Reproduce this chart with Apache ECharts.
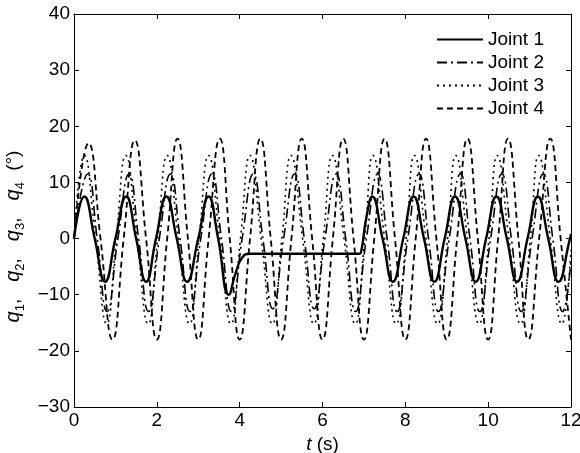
<!DOCTYPE html>
<html>
<head>
<meta charset="utf-8">
<script src="https://cdn.jsdelivr.net/npm/echarts@6/dist/echarts.min.js"></script>
<style>html,body{margin:0;padding:0;background:#fff;}#c{width:580px;height:453px;}</style>
</head>
<body>
<div id="c"></div>
<script>
// ---- Data (t in s, q in degrees) ----
var seriesNames = ['Joint 1', 'Joint 2', 'Joint 3', 'Joint 4'];
var xTicks = [0, 2, 4, 6, 8, 10, 12];
var yTicks = [-30, -20, -10, 0, 10, 20, 30, 40];

var joint1 = [
  [0,0],[0.25,7.5],[0.5,0],[0.75,-7.7],[1.0,0],[1.26,7.5],[1.5,0],[1.74,-7.7],[1.98,0],
  [2.23,7.5],[2.48,0],[2.73,-7.7],[3.0,0],[3.25,7.5],[3.48,0],[3.74,-10],[3.9,-6.2],
  [4.06,-3.4],[4.25,-2.7],[5.0,-2.7],[6.0,-2.7],[6.88,-2.7],[6.93,-2.5],[7.06,3.8],
  [7.2,7.5],[7.45,0],[7.7,-7.7],[7.95,0],[8.2,7.5],[8.45,0],[8.7,-7.7],[8.95,0],
  [9.2,7.5],[9.45,0],[9.7,-7.7],[9.95,0],[10.2,7.5],[10.45,0],[10.7,-7.7],[10.95,0],
  [11.2,7.5],[11.45,0],[11.7,-7.7],[11.96,-0.5],[12,0.8]
];
var joint2 = [
  [0,0],[0.33,11.5],[0.56,0],[0.8,-13],[1.06,0],[1.33,11.5],[1.56,0],[1.8,-13],[2.06,0],
  [2.33,11.5],[2.56,0],[2.8,-13],[3.06,0],[3.33,11.5],[3.56,0],[3.8,-13],[4.06,0],
  [4.33,11.5],[4.56,0],[4.8,-12.5],[5.06,0],[5.33,11.5],[5.56,0],[5.8,-12.5],[6.06,0],
  [6.33,11.5],[6.56,0],[6.8,-13],[7.06,0],[7.33,11.5],[7.56,0],[7.8,-13],[8.06,0],
  [8.33,11.5],[8.56,0],[8.8,-13],[9.06,0],[9.33,11.5],[9.56,0],[9.8,-13],[10.06,0],
  [10.33,11.5],[10.56,0],[10.8,-13],[11.06,0],[11.33,11.5],[11.56,0],[11.8,-13],[12,-4]
];
var joint3 = [
  [0,0],[0.25,14.8],[0.52,0],[0.79,-15.2],[1.02,0],[1.25,14.8],[1.52,0],[1.79,-15.2],[2.02,0],
  [2.25,14.8],[2.52,0],[2.79,-15.2],[3.02,0],[3.25,14.8],[3.52,0],[3.79,-15.2],[4.02,0],
  [4.25,14.8],[4.52,0],[4.79,-15.2],[5.02,0],[5.24,14.8],[5.52,0],[5.79,-15.2],[6.02,0],
  [6.24,14.8],[6.52,0],[6.79,-15.2],[7.02,0],[7.22,14.8],[7.5,0],[7.78,-15.2],[8.02,0],
  [8.22,14.8],[8.5,0],[8.78,-15.2],[9.02,0],[9.22,14.8],[9.5,0],[9.78,-15.2],[10.02,0],
  [10.22,14.8],[10.5,0],[10.78,-15.2],[11.02,0],[11.22,14.8],[11.5,0],[11.78,-15.2],[12,-2]
];
var joint4 = [
  [0,0],[0.35,17],[0.64,0],[0.93,-18],[1.2,0],[1.47,17.5],[1.74,0],[2.0,-18],[2.25,0],
  [2.5,17.8],[2.75,0],[3.0,-18],[3.25,0],[3.52,17.8],[3.76,0],[4.0,-18],[4.25,0],
  [4.5,17.8],[4.75,0],[5.0,-18],[5.25,0],[5.5,17.8],[5.75,0],[6.0,-18],[6.25,0],
  [6.5,17.8],[6.75,0],[7.0,-18],[7.25,0],[7.5,17.8],[7.75,0],[8.0,-18],[8.25,0],
  [8.5,17.8],[8.75,0],[9.0,-18],[9.25,0],[9.5,17.8],[9.75,0],[10.0,-18],[10.24,0],
  [10.48,17.8],[10.73,0],[10.97,-18],[11.23,0],[11.5,17.8],[11.75,0],[12.0,-18]
];
var seriesData = [joint1, joint2, joint3, joint4];

// ---- Styles ----
var FONT = '"Liberation Sans", Arial, Helvetica, sans-serif';
var FS = 19;
var lineStyles = [
  {color:'#000', width:2.4, type:'solid'},
  {color:'#000', width:1.6, type:[10,4,2,4]},
  {color:'#000', width:1.6, type:[2,4]},
  {color:'#000', width:1.8, type:[6,4]}
];
function minusFmt(v){ return String(v).replace('-', '\u2212'); }

var chart = echarts.init(document.getElementById('c'), null, {renderer:'canvas'});
var axisLineBlack = {show:true, onZero:false, lineStyle:{color:'#000', width:1}};
var option = {
  backgroundColor:'#fff',
  animation:false,
  grid:{left:74, right:9, top:14, bottom:46, containLabel:false, outerBoundsMode:'none'},
  legend:{
    orient:'vertical', left:431, top:25,
    itemWidth:46, itemHeight:20, itemGap:4,
    itemStyle:{opacity:0, borderWidth:0},
    textStyle:{fontFamily:FONT, fontSize:FS, color:'#000'},
    data:seriesNames
  },
  xAxis:[
    {type:'value', min:xTicks[0], max:xTicks[xTicks.length-1], interval:2,
     name:'{i|t} (s)', nameLocation:'middle', nameGap:19,
     nameTextStyle:{fontFamily:FONT, fontSize:FS, color:'#000', verticalAlign:'top',
       rich:{i:{fontFamily:FONT, fontSize:FS, fontStyle:'italic', color:'#000'}}},
     axisLine:axisLineBlack,
     axisTick:{show:true, inside:true, length:5, lineStyle:{color:'#000'}},
     axisLabel:{show:true, margin:4, fontFamily:FONT, fontSize:FS, color:'#000'},
     splitLine:{show:false}},
    {type:'value', position:'top', min:xTicks[0], max:xTicks[xTicks.length-1], interval:2,
     axisLine:axisLineBlack,
     axisTick:{show:true, inside:true, length:5, lineStyle:{color:'#000'}},
     axisLabel:{show:false}, splitLine:{show:false}}
  ],
  yAxis:[
    {type:'value', min:yTicks[0], max:yTicks[yTicks.length-1], interval:10,
     name:'{i|q}{s|1}{c|,}{i|q}{s|2}{c|,}{i|q}{s|3}{c|,}{i|q}{s|4}{p| (°)}',
     nameLocation:'middle', nameRotate:90, nameGap:40,
     nameTextStyle:{fontFamily:FONT, fontSize:FS, color:'#000', padding:[0,52,0,0],
       rich:{
         i:{fontFamily:FONT, fontSize:20, fontStyle:'italic', color:'#000', lineHeight:26},
         s:{fontFamily:FONT, fontSize:13, color:'#000', verticalAlign:'bottom', lineHeight:26, padding:[8,0,0,0]},
         c:{fontFamily:FONT, fontSize:FS, color:'#000', lineHeight:26, padding:[0,17,0,0]},
         p:{fontFamily:FONT, fontSize:FS, color:'#000', lineHeight:26, padding:[0,0,0,6]}
       }},
     axisLine:axisLineBlack,
     axisTick:{show:true, inside:true, length:5, lineStyle:{color:'#000'}},
     axisLabel:{show:true, margin:4, fontFamily:FONT, fontSize:FS, color:'#000', formatter:minusFmt},
     splitLine:{show:false}},
    {type:'value', position:'right', min:yTicks[0], max:yTicks[yTicks.length-1], interval:10,
     axisLine:axisLineBlack,
     axisTick:{show:true, inside:true, length:5, lineStyle:{color:'#000'}},
     axisLabel:{show:false}, splitLine:{show:false}}
  ],
  series: seriesNames.map(function(n, i){
    return {
      name:n, type:'line', xAxisIndex:0, yAxisIndex:0,
      data:seriesData[i], smooth:0.5, symbol:'none', showSymbol:false,
      lineStyle:lineStyles[i], itemStyle:{color:'#000'},
      z: 10 - i, clip:true
    };
  })
};
chart.setOption(option);
</script>
</body>
</html>
